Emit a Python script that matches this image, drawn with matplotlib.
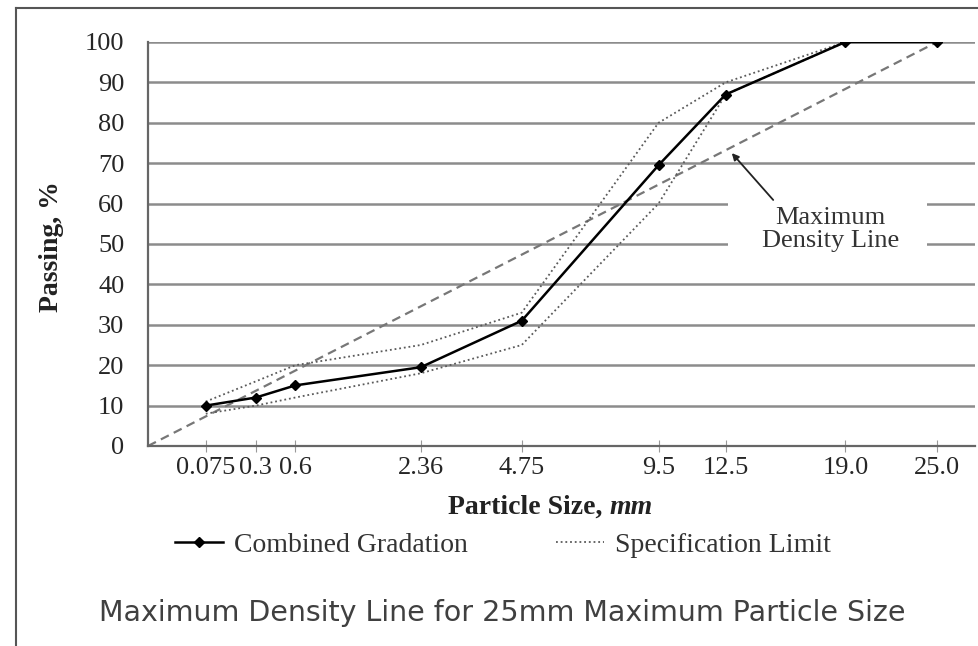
import numpy as np
import matplotlib.pyplot as plt
from matplotlib.lines import Line2D
from matplotlib.patches import Rectangle

# sieve sizes (mm) and percent passing
sieve_sizes = [0.075, 0.3, 0.6, 2.36, 4.75, 9.5, 12.5, 19.0, 25.0]
tick_labels = ["0.075", "0.3", "0.6", "2.36", "4.75", "9.5", "12.5", "19.0", "25.0"]
combined = [10, 12, 15, 19.5, 31, 69.5, 87, 100, 100]
spec_upper = [11, 16, 20, 25, 33, 80, 90, 100, 100]
spec_lower = [8, 10, 12, 18, 25, 60, 87, 100, 100]
# maximum density line: straight from origin to max size on this scale
mdl_sizes = [0.0, 25.0]
mdl_passing = [0, 100]
y_ticks = list(range(0, 101, 10))

POWER = 0.45
W, H = 979, 646
SERIF = "Liberation Serif"


def fwd(x):
    return np.power(np.clip(x, 0, None), POWER)


def inv(x):
    return np.power(np.clip(x, 0, None), 1 / POWER)


fig = plt.figure(figsize=(W / 100, H / 100), dpi=100)
ax = fig.add_axes([148 / W, 1 - 446 / H, 827 / W, 404 / H])
ax.set_xscale("function", functions=(fwd, inv))
ax.set_xlim(0, 27.75)
ax.set_ylim(0, 100)

# gridlines and spines
ax.set_yticks(y_ticks)
ax.yaxis.grid(True, color="#8c8c8c", lw=1.8, zorder=0.5)
ax.set_axisbelow(True)
for side in ["top", "right"]:
    ax.spines[side].set_visible(False)
for side in ["left", "bottom"]:
    ax.spines[side].set_color("#666666")
    ax.spines[side].set_linewidth(1.6)

ax.set_xticks(sieve_sizes, tick_labels)
ax.tick_params(axis="x", direction="inout", length=8, color="#999999",
               pad=4, labelsize=19, labelcolor="#262626")
ax.tick_params(axis="y", length=0, pad=17, labelsize=19, labelcolor="#262626")
for lab in ax.get_xticklabels() + ax.get_yticklabels():
    lab.set_family(SERIF)

# series
ax.plot(mdl_sizes, mdl_passing, ls=(0, (4, 2.5)), color="#777777", lw=1.6, zorder=2)
ax.plot(sieve_sizes, spec_upper, ls=(0, (1, 1.6)), color="#5a5a5a", lw=1.3, zorder=2)
ax.plot(sieve_sizes, spec_lower, ls=(0, (1, 1.6)), color="#5a5a5a", lw=1.3, zorder=2)
ax.plot(sieve_sizes, combined, color="black", lw=1.8, marker="D", ms=5.5, zorder=3)

# label for the maximum density line, with a gap cut into the gridlines
ax.add_patch(Rectangle((0.701, 0.45), 0.241, 0.195, transform=ax.transAxes,
                       fc="white", ec="none", zorder=1))
ax.text(0.825, 0.535, "Maximum\nDensity Line", transform=ax.transAxes,
        ha="center", va="center", fontsize=19, family=SERIF, color="#333333",
        linespacing=1.05, zorder=4)
ax.annotate("", xy=(12.8, 72.5), xytext=(0.756, 0.609), textcoords="axes fraction",
            arrowprops=dict(arrowstyle="-|>", color="#222222", lw=1.3,
                            mutation_scale=10, shrinkA=0, shrinkB=0), zorder=4)

# axis titles
fig.text(52 / W, 1 - 247 / H, "Passing, %", rotation=90, ha="center", va="center",
         fontsize=20, fontweight="bold", family=SERIF, color="#222222")
t1 = fig.text(448 / W, 1 - 507 / H, "Particle Size,", ha="left", va="center",
              fontsize=20, fontweight="bold", family=SERIF, color="#222222")
ax.annotate("mm", xy=(1, 0), xycoords=t1, xytext=(5, 0), textcoords="offset points",
            ha="left", va="bottom", fontsize=20, fontweight="bold", fontstyle="italic",
            family=SERIF, color="#222222", annotation_clip=False)

# legend below the axes
handles = [Line2D([], [], color="black", lw=1.8, marker="D", ms=5.5),
           Line2D([], [], ls=(0, (1, 1.6)), color="#5a5a5a", lw=1.3)]
fig.legend(handles, ["Combined Gradation", "Specification Limit"], loc="center",
           bbox_to_anchor=(503 / W, 1 - 545 / H), ncol=2, frameon=False,
           prop={"family": SERIF, "size": 20}, handlelength=1.7,
           handletextpad=0.4, columnspacing=3.2, labelcolor="#333333")

# caption
fig.text(502 / W, 1 - 613 / H, "Maximum Density Line for 25mm Maximum Particle Size",
         ha="center", va="center", fontsize=20.5, family="DejaVu Sans", color="#404040")

# outer frame (left and top edges visible)
fig.add_artist(Line2D([16 / W, 16 / W], [0, 1 - 8 / H], transform=fig.transFigure,
                      color="#555555", lw=1.5))
fig.add_artist(Line2D([16 / W, 1], [1 - 8 / H, 1 - 8 / H], transform=fig.transFigure,
                      color="#555555", lw=1.5))

fig.savefig("out.png", dpi=100)
